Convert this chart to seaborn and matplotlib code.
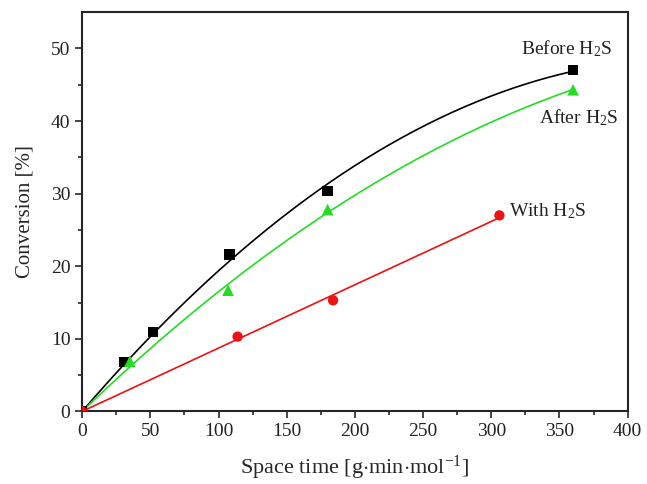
import numpy as np
import pandas as pd
import matplotlib
matplotlib.use("Agg")
import matplotlib.pyplot as plt
import seaborn as sns

# data
before_x = [0, 31, 52, 108, 180, 360]
before_y = [0, 6.8, 10.9, 21.6, 30.4, 47.0]
after_x = [0, 35, 107, 180, 360]
after_y = [0, 6.9, 16.7, 27.8, 44.3]
with_x = [0, 114, 184, 306]
with_y = [0, 10.3, 15.3, 27.0]

sns.set_style("ticks")
plt.rcParams["font.family"] = ["Liberation Serif", "DejaVu Serif"]
plt.rcParams["mathtext.fontset"] = "custom"
plt.rcParams["mathtext.rm"] = "Liberation Serif"
plt.rcParams["mathtext.it"] = "Liberation Serif:italic"
plt.rcParams["text.color"] = "#222222"


def fit_origin(x, y, deg):
    # least squares polynomial through the origin
    x = np.asarray(x, float)
    y = np.asarray(y, float)
    A = np.column_stack([x ** k for k in range(1, deg + 1)])
    coef = np.linalg.lstsq(A, y, rcond=None)[0]
    xs = np.linspace(0, x.max(), 200)
    ys = sum(c * xs ** (k + 1) for k, c in enumerate(coef))
    return pd.DataFrame({"x": xs, "y": ys})


fig = plt.figure(figsize=(6.47, 4.84), dpi=100)
ax = fig.add_axes([0.127, 0.150, 0.843, 0.825])

sns.lineplot(data=fit_origin(before_x, before_y, 2), x="x", y="y", color="black", lw=1.2, ax=ax)
sns.lineplot(data=fit_origin(after_x, after_y, 2), x="x", y="y", color="#22dd22", lw=1.2, ax=ax)
sns.lineplot(data=fit_origin(with_x, with_y, 1), x="x", y="y", color="#ee1111", lw=1.2, ax=ax)

sns.scatterplot(x=before_x, y=before_y, marker="s", s=55, color="black", edgecolor="none", ax=ax, zorder=5)
sns.scatterplot(x=after_x, y=after_y, marker="^", s=70, color="#22dd22", edgecolor="none", ax=ax, zorder=5)
sns.scatterplot(x=with_x, y=with_y, marker="o", s=55, color="#ee1111", edgecolor="none", ax=ax, zorder=5)

ax.text(355, 50.0, r"Before H$_2$S", ha="center", va="center", fontsize=14)
ax.text(364, 40.4, r"After H$_2$S", ha="center", va="center", fontsize=14)
ax.text(313, 27.6, r"With H$_2$S", ha="left", va="center", fontsize=14)

ax.set_xlim(0, 400)
ax.set_ylim(0, 55)
ax.set_xticks(range(0, 401, 50))
ax.set_yticks(range(0, 51, 10))
ax.set_xticks(range(25, 400, 50), minor=True)
ax.set_yticks(range(5, 55, 10), minor=True)
ax.tick_params(which="major", direction="out", length=5, width=1.2, labelsize=14,
               labelcolor="#222222")
ax.tick_params(which="minor", direction="out", length=3, width=1.2)
for sp in ax.spines.values():
    sp.set_linewidth(1.5)
    sp.set_visible(True)

ax.set_xlabel(r"Space time [g$\cdot$min$\cdot$mol$^{-1}$]", fontsize=16, labelpad=10)
ax.set_ylabel("Conversion [%]", fontsize=15, labelpad=12)

fig.savefig("out.png", dpi=100)
